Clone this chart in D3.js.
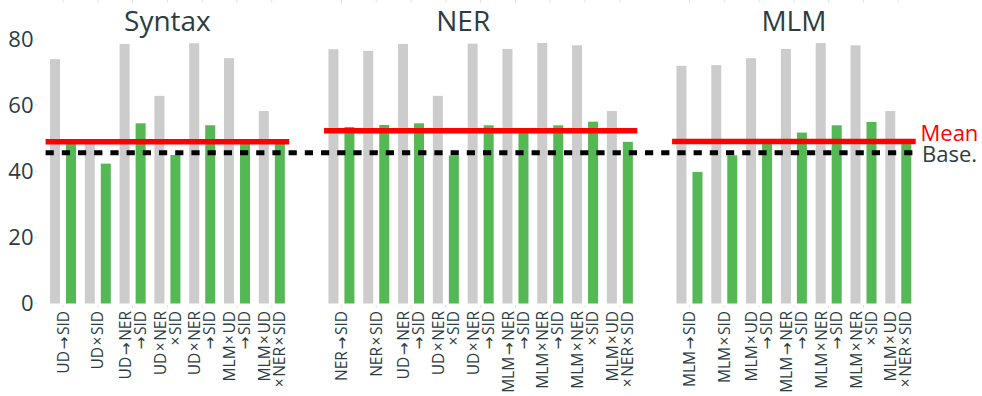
<!DOCTYPE html>
<html>
<head>
<meta charset="utf-8">
<script src="https://cdn.jsdelivr.net/npm/d3@7"></script>
<style>
  html, body { margin: 0; padding: 0; background: #fff; }
  svg { display: block; font-family: "Open Sans", "DejaVu Sans", sans-serif; }
</style>
</head>
<body>
<svg id="chart" width="982" height="396"></svg>
<script>
// ---- data ----
const panelTitles = ["Syntax", "NER", "MLM"];

const syntaxCats = ["UD→SID", "UD×SID", "UD→NER\n→SID", "UD×NER\n×SID", "UD×NER\n→SID", "MLM×UD\n→SID", "MLM×UD\n×NER×SID"];
const syntaxBase = [73.9, 48.9, 78.5, 62.8, 78.7, 74.2, 58.2];
const syntaxOurs = [48.7, 42.3, 54.5, 44.9, 53.9, 49.0, 48.9];

const nerCats = ["NER→SID", "NER×SID", "UD→NER\n→SID", "UD×NER\n×SID", "UD×NER\n→SID", "MLM→NER\n→SID", "MLM×NER\n→SID", "MLM×NER\n×SID", "MLM×UD\n×NER×SID"];
const nerBase = [76.9, 76.4, 78.5, 62.8, 78.6, 77.0, 78.8, 78.1, 58.2];
const nerOurs = [53.4, 54.0, 54.5, 44.8, 53.9, 51.6, 53.9, 55.0, 48.9];

const mlmCats = ["MLM→SID", "MLM×SID", "MLM×UD\n→SID", "MLM→NER\n→SID", "MLM×NER\n→SID", "MLM×NER\n×SID", "MLM×UD\n×NER×SID"];
const mlmBase = [71.9, 72.1, 74.2, 77.0, 78.8, 78.1, 58.2];
const mlmOurs = [39.8, 44.8, 48.9, 51.7, 53.9, 54.9, 48.9];

const baselineValue = 45.6;
const yTicks = [0, 20, 40, 60, 80];
const legendLabels = ["Mean", "Base."];

// ---- layout ----
const textColor = "#2b3d42";
const grayColor = "#cccccc";
const greenColor = "#54b854";
const redColor = "#ff0000";

const panels = [
  { key: "S", title: panelTitles[0], cats: syntaxCats, base: syntaxBase, ours: syntaxOurs, titleShift: 0 },
  { key: "N", title: panelTitles[1], cats: nerCats, base: nerBase, ours: nerOurs, titleShift: -0.5 },
  { key: "M", title: panelTitles[2], cats: mlmCats, base: mlmBase, ours: mlmOurs, titleShift: 0 }
];

const slots = [];
panels.forEach((p, pi) => {
  p.keys = p.cats.map((c, i) => p.key + i);
  p.keys.forEach(k => slots.push(k));
  if (pi < panels.length - 1) slots.push("gap" + pi);
});

const x = d3.scaleBand().domain(slots).range([45.6, 915.7]).padding(0);
const sub = d3.scaleBand().domain(["base", "ours"]).range([0, x.bandwidth()])
  .paddingInner(0.375).paddingOuter(0.275);
const y = d3.scaleLinear().domain([0, 80]).range([303.5, 39]);

const svg = d3.select("#chart");

// faint tick marks at category centres
const allKeys = panels.flatMap(p => p.keys);
svg.append("g").selectAll("line").data(allKeys).join("line")
  .attr("x1", k => x(k) + x.bandwidth() / 2).attr("x2", k => x(k) + x.bandwidth() / 2)
  .attr("y1", 0).attr("y2", 3).attr("stroke", "#e4e4e4").attr("stroke-width", 1);
svg.append("g").selectAll("line").data(allKeys).join("line")
  .attr("x1", k => x(k) + x.bandwidth() / 2).attr("x2", k => x(k) + x.bandwidth() / 2)
  .attr("y1", 305).attr("y2", 308).attr("stroke", "#e4e4e4").attr("stroke-width", 1);

// y axis labels
const yAxis = svg.append("g");
yAxis.selectAll("text").data(yTicks).join("text")
  .attr("x", 33.5).attr("y", d => y(d)).attr("dy", "0.36em")
  .attr("text-anchor", "end").attr("fill", textColor)
  .style("font-size", "22px").text(d => d);
yAxis.selectAll("line").data(yTicks).join("line")
  .attr("x1", 35).attr("x2", 37).attr("y1", d => y(d)).attr("y2", d => y(d))
  .attr("stroke", "#dddddd");

function addLabelLine(sel, str) {
  // operators get a little space around them, arrows drawn with DejaVu Sans
  const gap = 1.5;
  const parts = str.split(/(→|×)/).filter(s => s.length);
  let pendingGap = 0;
  parts.forEach((s, k) => {
    const isOp = (s === "→" || s === "×");
    const t = sel.append("tspan").text(s);
    let dx = pendingGap;
    if (isOp && k > 0) dx += gap;
    if (dx) t.attr("dx", dx);
    pendingGap = isOp ? gap : 0;
    if (s === "→") t.style("font-family", "'DejaVu Sans'");
  });
}

panels.forEach(p => {
  const g = svg.append("g");
  g.selectAll("rect.base").data(p.base).join("rect")
    .attr("class", "base")
    .attr("x", (d, i) => x(p.keys[i]) + sub("base"))
    .attr("width", sub.bandwidth())
    .attr("y", d => y(d)).attr("height", d => y(0) - y(d))
    .attr("fill", grayColor);
  g.selectAll("rect.ours").data(p.ours).join("rect")
    .attr("class", "ours")
    .attr("x", (d, i) => x(p.keys[i]) + sub("ours"))
    .attr("width", sub.bandwidth())
    .attr("y", d => y(d)).attr("height", d => y(0) - y(d))
    .attr("fill", greenColor);

  const mid = (x(p.keys[0]) + x(p.keys[p.keys.length - 1]) + x.bandwidth()) / 2 + p.titleShift * x.bandwidth();
  svg.append("text").attr("x", mid).attr("y", 31)
    .attr("text-anchor", "middle").attr("fill", textColor)
    .style("font-size", "28px").text(p.title);

  p.cats.forEach((c, i) => {
    const lines = c.split("\n");
    const cx = x(p.keys[i]) + x.bandwidth() / 2;
    const lh = 15;
    lines.forEach((ln, li) => {
      const off = (li - (lines.length - 1) / 2) * lh;
      const t = svg.append("text")
        .attr("transform", `translate(${cx + off},311) rotate(-90)`)
        .attr("text-anchor", "end").attr("dy", "0.36em")
        .attr("fill", textColor).style("font-size", "15.5px");
      addLabelLine(t, ln);
    });
  });

  p.mean = d3.mean(p.ours);
  p.x0 = x(p.keys[0]);
  p.x1 = x(p.keys[p.keys.length - 1]) + x.bandwidth();
});

panels.forEach(p => {
  svg.append("line")
    .attr("x1", p.x0).attr("x2", p.x1)
    .attr("y1", y(p.mean)).attr("y2", y(p.mean))
    .attr("stroke", redColor).attr("stroke-width", 5.5);
});

svg.append("line")
  .attr("x1", x.range()[0]).attr("x2", x.range()[1])
  .attr("y1", y(baselineValue)).attr("y2", y(baselineValue))
  .attr("stroke", "#000").attr("stroke-width", 5)
  .attr("stroke-dasharray", "8.2,8");

const last = panels[panels.length - 1];
svg.append("text").attr("x", 920.5).attr("y", y(last.mean) - 1)
  .attr("fill", redColor).style("font-size", "22px").text(legendLabels[0]);
svg.append("text").attr("x", 922).attr("y", y(baselineValue)).attr("dy", "0.43em")
  .attr("fill", textColor).style("font-size", "22px").text(legendLabels[1]);
</script>
</body>
</html>
